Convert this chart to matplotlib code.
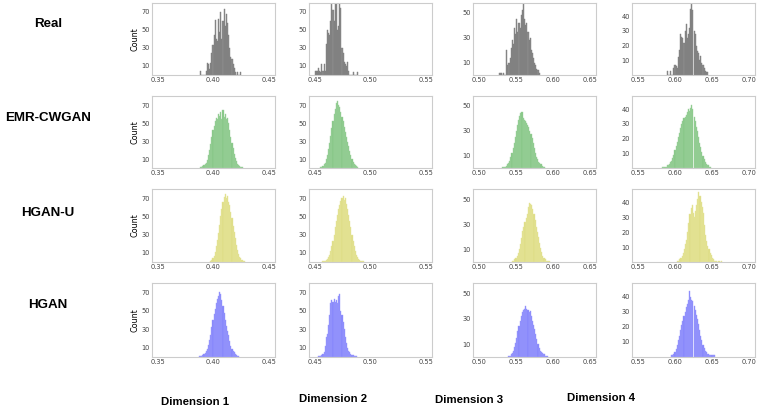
import matplotlib
matplotlib.use("Agg")
import matplotlib.pyplot as plt

# ---- data: per-dimension bin widths and tick setup ----
dims = ["Dimension 1", "Dimension 2", "Dimension 3", "Dimension 4"]
models = ["Real", "EMR-CWGAN", "HGAN-U", "HGAN"]
bin_width = [0.001, 0.001, 0.0015, 0.0015]
x_ticks = [[0.35, 0.40, 0.45], [0.45, 0.50, 0.55],
           [0.50, 0.55, 0.60, 0.65], [0.55, 0.60, 0.65, 0.70]]
y_ticks = [[10, 30, 50, 70], [10, 30, 50, 70], [10, 30, 50], [10, 20, 30, 40]]
y_max = [80, 80, 58, 49]

# ---- histogram counts (start = left edge of first bin) ----
real_start = [0.388, 0.450, 0.528, 0.589]
real_counts = [
    [4, 0, 0, 0, 0, 5, 13, 12, 7, 13, 25, 33, 45, 61, 40, 38, 62, 48, 70, 40,
     60, 73, 55, 68, 58, 45, 30, 20, 18, 12, 8, 3, 0, 3, 0, 0, 3],
    [4, 5, 5, 8, 4, 3, 12, 5, 12, 5, 35, 50, 47, 45, 60, 88, 72, 60, 88, 85,
     50, 55, 88, 75, 30, 25, 15, 12, 10, 15, 5, 0, 0, 0, 3, 0, 0, 0, 3],
    [2, 2, 0, 2, 0, 0, 20, 8, 10, 14, 22, 28, 25, 38, 33, 45, 35, 42, 38, 48,
     52, 57, 45, 40, 42, 35, 28, 30, 20, 18, 14, 10, 8, 5, 4, 2],
    [3, 0, 0, 3, 0, 0, 5, 7, 6, 5, 12, 17, 28, 26, 25, 22, 30, 35, 25, 28,
     32, 45, 50, 44, 30, 28, 20, 16, 15, 10, 13, 8, 7, 5, 3, 2, 2],
]

emr_start = [0.388, 0.455, 0.532, 0.583]
emr_counts = [
    [1, 1, 2, 3, 4, 6, 9, 14, 20, 27, 35, 42, 47, 52, 56, 54, 60, 58, 62, 55,
     65, 57, 60, 55, 56, 50, 42, 35, 28, 22, 16, 11, 8, 5, 3, 2, 1, 1],
    [1, 1, 2, 4, 6, 10, 15, 21, 28, 36, 44, 52, 60, 66, 72, 75, 70, 68, 62, 57,
     52, 46, 40, 34, 29, 24, 19, 14, 10, 7, 5, 3, 2, 1],
    [1, 1, 1, 2, 3, 4, 6, 9, 12, 16, 20, 25, 30, 35, 39, 42, 44, 45, 40, 39,
     38, 36, 35, 33, 30, 27, 24, 20, 16, 12, 9, 7, 5, 4, 3, 2, 1, 1],
    [1, 1, 1, 1, 2, 2, 3, 4, 5, 7, 9, 12, 15, 18, 21, 24, 27, 30, 32, 34,
     35, 36, 38, 40, 39, 41, 43, 40, 35, 32, 28, 25, 21, 17, 14, 11, 8, 6, 4, 3,
     2, 2, 1, 1],
]

hganu_start = [0.397, 0.457, 0.545, 0.603]
hganu_counts = [
    [1, 2, 4, 7, 11, 17, 24, 32, 41, 50, 58, 66, 71, 75, 70, 72, 66, 62, 55, 48,
     40, 33, 26, 19, 13, 9, 6, 4, 2, 1, 1],
    [1, 1, 1, 2, 3, 5, 8, 12, 17, 23, 30, 38, 45, 52, 58, 63, 67, 70, 72, 68,
     70, 64, 58, 52, 45, 38, 30, 23, 17, 12, 8, 5, 3, 2, 1, 1, 1],
    [1, 1, 2, 3, 5, 7, 10, 14, 19, 25, 28, 32, 35, 38, 44, 47, 46, 45, 42, 38,
     33, 28, 24, 20, 15, 11, 8, 5, 3, 2, 1, 1, 1, 1],
    [1, 1, 2, 3, 4, 6, 9, 12, 15, 20, 26, 32, 36, 38, 33, 30, 34, 38, 42, 47,
     44, 40, 37, 33, 25, 18, 14, 11, 9, 6, 5, 3, 2, 1, 1, 1, 0, 1, 0, 1],
]

hgan_start = [0.387, 0.453, 0.540, 0.595]
hgan_counts = [
    [1, 1, 1, 2, 3, 4, 6, 9, 13, 18, 24, 32, 40, 47, 52, 58, 63, 66, 70, 68,
     62, 55, 48, 40, 33, 28, 24, 17, 12, 9, 7, 5, 3, 2, 1, 1],
    [1, 1, 1, 2, 3, 5, 12, 22, 25, 35, 45, 58, 62, 60, 63, 60, 62, 58, 66, 68,
     50, 45, 38, 30, 22, 15, 10, 7, 5, 3, 2, 2, 1, 1, 1],
    [1, 1, 2, 3, 5, 8, 11, 15, 20, 24, 28, 32, 35, 37, 38, 40, 38, 37, 35, 36,
     32, 28, 25, 22, 18, 14, 10, 7, 5, 4, 3, 2, 2, 1, 1],
    [1, 1, 2, 3, 5, 8, 11, 14, 18, 21, 24, 27, 30, 33, 35, 38, 44, 40, 38, 37,
     34, 31, 28, 25, 22, 18, 14, 11, 8, 6, 4, 3, 2, 2, 1, 1, 1, 1, 1],
]

starts = [real_start, emr_start, hganu_start, hgan_start]
counts = [real_counts, emr_counts, hganu_counts, hgan_counts]
face = ["#8c8c8c", "#85c685", "#dedd84", "#8484fb"]
edge = ["#7a7a7a", "#9fd39f", "#e6e69e", "#9d9dfc"]

# ---- layout (pixels of a 758x408 canvas) ----
W, H = 758, 408
col_left = [152, 309, 473, 632]
col_w = 123
row_span = [(3, 75), (96, 168), (189, 262), (283, 357)]
row_label_y = [24, 118, 213, 305]
dim_label_pos = [(195, 402), (333, 399), (469, 400), (601, 398)]

fig = plt.figure(figsize=(W / 100, H / 100), dpi=100)

for r in range(4):
    top, bot = row_span[r]
    for c in range(4):
        ax = fig.add_axes([col_left[c] / W, 1 - bot / H, col_w / W, (bot - top) / H])
        w = bin_width[c]
        vals = counts[r][c]
        edges = [starts[r][c] + i * w for i in range(len(vals))]
        ax.bar(edges, vals, width=w, align="edge", color=face[r],
               edgecolor=edge[r], linewidth=0.3)
        span = x_ticks[c][-1] - x_ticks[c][0]
        ax.set_xlim(x_ticks[c][0] - 0.05 * span, x_ticks[c][-1] + 0.05 * span)
        ax.set_ylim(0, y_max[c])
        ax.set_xticks(x_ticks[c])
        ax.set_xticklabels([f"{t:.2f}" for t in x_ticks[c]])
        ax.set_yticks(y_ticks[c])
        ax.tick_params(length=0, labelsize=4.8, labelcolor="#444444", pad=1.5)
        for s in ax.spines.values():
            s.set_color("#cccccc")
            s.set_linewidth(0.8)
        if c == 0:
            ax.set_ylabel("Count", fontsize=5.8, labelpad=1.5)

    fig.text(48 / W, 1 - row_label_y[r] / H, models[r], ha="center", va="center",
             fontsize=9.6, fontweight="bold", family=["Liberation Sans", "DejaVu Sans"])

for (x, y), name in zip(dim_label_pos, dims):
    fig.text(x / W, 1 - y / H, name, ha="center", va="center", fontsize=8.2,
             fontweight="bold", family=["Liberation Sans", "DejaVu Sans"])

fig.savefig("out.png", dpi=100)
